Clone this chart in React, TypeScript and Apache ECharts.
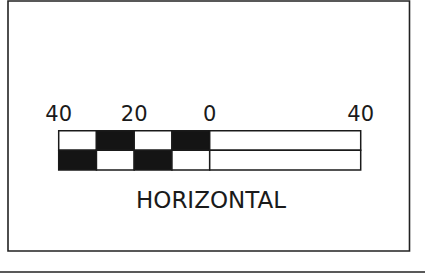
import React, { useEffect, useRef } from "react";
import * as echarts from "echarts";

const rows = ["upper", "lower"];
const segmentStarts = [-40, -30, -20, -10, 0];
const segmentEnds = [-30, -20, -10, 0, 40];
const upperFills = ["white", "black", "white", "black", "white"];
const lowerFills = ["black", "white", "black", "white", "white"];
const tickValues = [-40, -20, 0, 40];
const tickLabels = ["40", "20", "0", "40"];
const caption = "HORIZONTAL";

const colorOf = (c: string) => (c === "black" ? "#141414" : "#ffffff");

export default function App() {
  const ref = useRef<HTMLDivElement>(null);
  useEffect(() => {
    if (!ref.current) return;
    const chart = echarts.init(ref.current, null, { renderer: "svg" });
    const data: any[] = [];
    segmentStarts.forEach((s, i) => {
      data.push([s, segmentEnds[i], 0, upperFills[i]]);
      data.push([s, segmentEnds[i], 1, lowerFills[i]]);
    });
    chart.setOption({
      animation: false,
      backgroundColor: "#ffffff",
      grid: { left: 58.7, right: 64.3, top: 130.7, bottom: 105, containLabel: false },
      xAxis: {
        type: "value",
        min: -40,
        max: 40,
        interval: 20,
        position: "top",
        axisLine: { show: false },
        axisTick: { show: false },
        splitLine: { show: false },
        axisLabel: {
          show: true,
          customValues: tickValues,
          margin: 6,
          fontFamily: "DejaVu Sans",
          fontSize: 21,
          color: "#1a1a1a",
          formatter: (v: number) => {
            const idx = tickValues.indexOf(v);
            return idx >= 0 ? tickLabels[idx] : "";
          },
        },
      },
      yAxis: {
        type: "category",
        data: rows,
        inverse: true,
        show: false,
      },
      series: [
        {
          type: "custom",
          data,
          renderItem: (params: any, api: any) => {
            const x0 = api.value(0);
            const x1 = api.value(1);
            const row = api.value(2);
            const fill = data[params.dataIndex][3];
            const p0 = api.coord([x0, row]);
            const p1 = api.coord([x1, row]);
            const h = api.size([0, 1])[1];
            return {
              type: "rect",
              shape: { x: p0[0], y: p0[1] - h / 2, width: p1[0] - p0[0], height: h },
              style: { fill: colorOf(fill), stroke: "#1a1a1a", lineWidth: 1.5 },
            };
          },
        },
      ],
      graphic: [
        {
          type: "rect",
          shape: { x: 8, y: 1, width: 401.5, height: 250 },
          style: { fill: "none", stroke: "#222", lineWidth: 1.6 },
        },
        {
          type: "line",
          shape: { x1: 0, y1: 272, x2: 425, y2: 272 },
          style: { stroke: "#222", lineWidth: 1.6 },
        },
        {
          type: "text",
          x: 211,
          y: 200,
          style: {
            text: caption,
            fontFamily: "DejaVu Sans",
            fontSize: 23,
            fill: "#1a1a1a",
            align: "center",
            verticalAlign: "middle",
          },
        },
      ],
    });
    return () => chart.dispose();
  }, []);
  return (
    <div
      ref={ref}
      style={{ position: "fixed", left: 0, top: 0, width: 425, height: 275 }}
    />
  );
}
